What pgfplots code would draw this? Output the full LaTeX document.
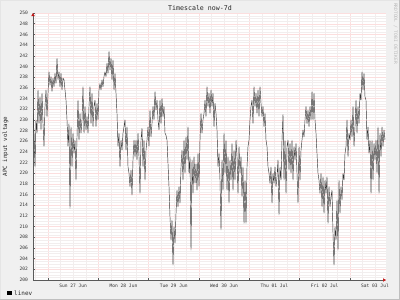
\documentclass[border=0pt]{standalone}
\usepackage{fontspec}
\setmonofont{DejaVu Sans Mono}
\usepackage{pgfplots}
\pgfplotsset{compat=1.18}
\usepackage{pgfplotstable}
\usetikzlibrary{arrows.meta}
\definecolor{bgc}{RGB}{240,240,240}
\definecolor{mgrid}{RGB}{252,222,222}
\definecolor{ngrid}{RGB}{242,238,238}
\definecolor{axc}{RGB}{90,90,90}
\definecolor{arr}{RGB}{190,20,20}
% x: time in samples (about 28.6 min each); midnight of Sun 27 Jun at 48, one day = 50.3
\pgfplotstableread{
x y
33 231.2
34 227.5
35 221.2
36 230.0
37 227.5
38 235.6
39 229.3
40 234.3
41 228.1
42 235.0
43 229.3
44 225.0
45 232.5
46 235.6
47 230.6
48 235.0
49 239.0
50 236.5
51 238.1
52 235.3
53 237.8
54 236.2
55 238.7
56 236.8
57 241.5
58 237.5
59 239.0
60 236.2
61 238.7
62 235.6
63 237.8
64 237.5
65 235.6
66 233.7
67 230.0
68 225.0
69 229.3
70 213.4
71 228.7
72 221.2
73 227.5
74 223.7
75 226.2
76 218.7
77 226.8
78 233.7
79 226.2
80 231.2
81 227.5
82 230.0
83 236.2
84 227.5
85 232.5
86 228.1
87 230.6
88 227.5
89 232.5
90 236.2
91 229.3
92 235.0
93 228.7
94 232.5
95 233.7
96 228.7
97 233.1
98 230.0
99 235.6
100 236.8
101 235.6
102 237.5
103 236.2
104 238.1
105 239.0
106 238.1
107 240.6
108 238.7
109 242.8
110 239.3
111 241.5
112 237.5
113 241.2
114 235.6
115 238.7
116 235.0
117 231.2
118 225.0
119 227.5
120 221.2
121 226.2
122 224.3
123 227.5
124 228.7
125 230.0
126 224.3
127 228.7
128 221.2
129 220.0
130 217.5
131 220.6
132 215.9
133 222.5
134 226.2
135 223.1
136 226.2
137 222.5
138 227.5
139 223.1
140 216.2
141 226.2
142 228.4
143 221.2
144 226.2
145 218.7
146 224.3
147 226.2
148 228.7
149 225.0
150 231.8
151 226.8
152 229.3
153 232.5
154 230.0
155 235.3
156 231.8
157 233.7
158 230.0
159 228.1
160 233.7
161 229.3
162 234.0
163 230.6
164 232.5
165 227.5
166 227.1
167 226.2
168 221.8
169 217.5
170 211.8
171 207.5
172 211.2
173 202.8
174 210.0
175 206.9
176 212.5
177 216.8
178 213.7
179 217.5
180 214.4
181 221.2
182 224.3
183 218.7
184 226.2
185 220.0
186 226.8
187 222.5
188 228.7
189 220.0
190 223.1
191 205.6
192 222.5
193 216.2
194 223.1
195 218.1
196 221.8
197 216.8
198 223.7
199 217.5
200 226.2
201 231.2
202 227.5
203 230.0
204 231.2
205 233.7
206 230.6
207 236.2
208 232.5
209 235.0
210 231.2
211 235.6
212 232.5
213 235.0
214 228.7
215 233.1
216 231.2
217 228.1
218 221.2
219 223.7
220 218.7
221 209.4
222 222.5
223 216.8
224 227.5
225 220.0
226 226.2
227 216.8
228 223.1
229 214.4
230 222.5
231 218.7
232 225.6
233 216.8
234 224.3
235 218.7
236 226.2
237 223.1
238 216.2
239 225.0
240 220.0
241 223.1
242 215.6
243 221.2
244 210.6
245 218.7
246 210.6
247 221.2
248 225.0
249 226.2
250 230.0
251 232.5
252 233.7
253 229.3
254 236.2
255 232.5
256 235.0
257 231.2
258 235.6
259 230.6
260 236.2
261 233.1
262 230.6
263 232.5
264 228.7
265 231.2
266 226.2
267 225.0
268 221.2
269 220.0
270 218.1
271 221.2
272 214.4
273 220.0
274 218.1
275 221.2
276 217.5
277 219.3
278 222.5
279 212.2
280 221.2
281 218.7
282 226.2
283 231.0
284 218.7
285 226.2
286 216.2
287 225.0
288 226.2
289 220.6
290 225.6
291 220.0
292 226.2
293 218.7
294 225.0
295 222.5
296 225.6
297 220.0
298 214.4
299 225.0
300 218.7
301 224.3
302 226.2
303 228.1
304 226.8
305 230.0
306 232.5
307 229.3
308 231.8
309 228.7
310 232.5
311 230.0
312 235.3
313 230.0
314 235.0
315 230.0
316 227.5
317 223.7
318 220.0
319 218.7
320 216.2
321 220.0
322 213.7
323 219.3
324 212.5
325 218.7
326 216.2
327 219.3
328 210.6
329 217.5
330 213.7
331 215.6
332 216.8
333 208.7
334 202.8
335 210.0
336 207.5
337 215.0
338 205.6
339 218.7
340 212.5
341 217.5
342 215.0
343 220.0
344 218.7
345 223.7
346 225.0
347 230.0
348 223.1
349 227.5
350 226.2
351 230.0
352 226.8
353 232.5
354 225.0
355 228.7
356 233.7
357 227.5
358 232.5
359 229.3
360 235.0
361 233.7
362 239.0
363 235.6
364 238.7
365 234.3
366 233.7
367 226.2
368 228.7
369 223.7
370 226.2
371 216.2
372 226.2
373 218.7
374 225.6
375 222.5
376 226.2
377 220.0
378 228.7
379 216.2
380 227.5
381 223.1
382 228.7
383 225.0
384 228.1
385 226.2
}\linev
\begin{document}
\begin{tikzpicture}
\useasboundingbox (0,0) rectangle (400bp,300bp);
\fill[bgc] (0,0) rectangle (400bp,300bp);
\draw[gray!20, line width=1bp] (0.5bp,0.5bp) -- (0.5bp,299.5bp) -- (399.5bp,299.5bp);
\draw[gray!50, line width=1bp] (0.5bp,0.5bp) -- (399.5bp,0.5bp) -- (399.5bp,299.5bp);
\begin{axis}[
  at={(33bp,20bp)}, anchor=south west,
  scale only axis, width=353bp, height=267bp,
  xmin=33, xmax=386, ymin=200, ymax=250,
  axis x line*=bottom, axis y line*=left,
  axis line style={draw=axc, line width=0.5bp},
  x axis line style={-{Triangle[length=3bp,width=3.2bp,color=arr]}},
  y axis line style={-{Triangle[length=3bp,width=3.2bp,color=arr]}},
  axis background/.style={fill=white},
  ytick={200,202,...,250},
  minor y tick num=3,
  xtick={48,98.3,148.6,198.9,249.2,299.5,349.8},
  xticklabels={},
  minor xtick={35.425,60.575,73.15,85.725,110.875,123.45,136.025,161.175,173.75,186.325,211.475,224.05,236.625,261.775,274.35,286.925,312.075,324.65,337.225,362.375,374.95},
  extra x ticks={73.15,123.45,173.75,224.05,274.35,324.65,374.95},
  extra x tick labels={Sun 27 Jun,Mon 28 Jun,Tue 29 Jun,Wed 30 Jun,Thu 01 Jul,Fri 02 Jul,Sat 03 Jul},
  extra x tick style={grid=none, major tick length=0pt},
  grid=both,
  major grid style={draw=mgrid, line width=0.25bp},
  minor grid style={draw=ngrid, line width=0.2bp},
  major tick length=2bp, minor tick length=0pt,
  tick style={draw=axc, line width=0.4bp},
  tick label style={font=\ttfamily\fontsize{4.6bp}{5bp}\selectfont, text=black!80},
  yticklabel style={xshift=-1.5bp},
  xticklabel style={yshift=-0.5bp},
  /pgf/number format/assume math mode=true,
]
\addplot[black!80, line width=0.45bp, line join=round] table {\linev};
\end{axis}
\node[font=\ttfamily\fontsize{6.6bp}{7bp}\selectfont, text=black!85] at (200bp,291.5bp) {Timescale now-7d};
\node[rotate=90, font=\ttfamily\fontsize{5.8bp}{6bp}\selectfont, text=black!85] at (5.5bp,153.5bp) {APC input voltage};
\fill[black] (7bp,4.7bp) rectangle (12bp,9.3bp);
\node[anchor=west, inner sep=0pt, font=\ttfamily\fontsize{6bp}{6bp}\selectfont, text=black!85] at (14bp,7bp) {linev};
\node[rotate=-90, font=\ttfamily\fontsize{4.6bp}{5bp}\selectfont, text=gray!55] at (395.5bp,266.5bp) {RRDTOOL / TOBI OETIKER};
\end{tikzpicture}
\end{document}
